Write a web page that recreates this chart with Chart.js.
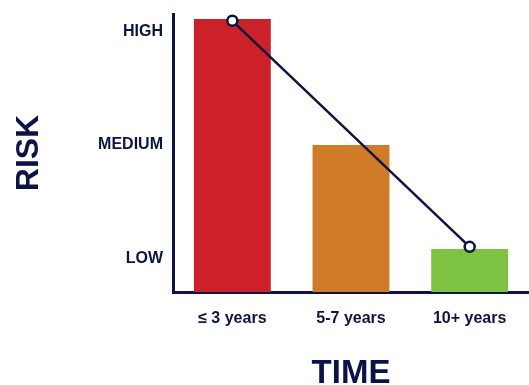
<!DOCTYPE html>
<html>
<head>
<meta charset="utf-8">
<script src="https://cdn.jsdelivr.net/npm/chart.js@4/dist/chart.umd.min.js"></script>
<style>
  html, body { margin: 0; padding: 0; background: #fff; overflow: hidden; }
  canvas { display: block; }
</style>
</head>
<body>
<canvas id="riskChart" width="529" height="385"></canvas>
<script>
// categories and values
var periods = ['\u2264 3 years', '5-7 years', '10+ years'];
var riskBars = [3.115, 2.0, 1.08];
var riskTrend = [3.1, null, 1.1];
var riskLevels = [1, 2, 3];
var riskLabels = ['LOW', 'MEDIUM', 'HIGH'];
var barColors = ['#cc2128', '#d07b28', '#7dc243'];

var navy = '#0c1445';
var font = "'Liberation Sans', Arial, sans-serif";

var ctx = document.getElementById('riskChart').getContext('2d');

var chart = new Chart(ctx, {
	type: 'bar',
	data: {
		labels: periods,
		datasets: [{
			type: 'line',
			data: riskTrend,
			spanGaps: true,
			borderColor: navy,
			borderWidth: 2.5,
			pointRadius: 5,
			pointBorderWidth: 2.5,
			pointBackgroundColor: '#fff',
			pointBorderColor: navy,
			clip: false,
			order: 0
		}, {
			data: riskBars,
			backgroundColor: barColors,
			barPercentage: 1,
			categoryPercentage: 0.648,
			order: 1
		}]
	},
	options: {
		responsive: false,
		animation: false,
		// no auto padding, the plot runs to the right edge
		layout: { autoPadding: false, padding: { top: 14, right: -5 } },
		plugins: {
			legend: { display: false },
			tooltip: { enabled: false }
		},
		scales: {
			x: {
				grid: { display: false },
				border: { color: navy, width: 3 },
				ticks: {
					color: navy,
					padding: 9,
					font: { family: font, size: 16, weight: 'bold' }
				},
				title: {
					display: true,
					text: 'TIME',
					color: navy,
					padding: 0,
					font: { family: font, size: 33, weight: 'bold', lineHeight: 0.7 }
				},
				afterFit: function(scale) {
					scale.height = 93;
					scale.paddingLeft = 0;
					scale.paddingRight = 0;
				}
			},
			y: {
				min: 0.7,
				max: 3.16,
				grid: { display: false },
				border: { color: navy, width: 3 },
				afterBuildTicks: function(scale) {
					scale.ticks = riskLevels.map(function(v) { return { value: v }; });
				},
				ticks: {
					color: navy,
					padding: 2,
					font: { family: font, size: 16, weight: 'bold' },
					callback: function(value) {
						var i = riskLevels.indexOf(value);
						return i >= 0 ? riskLabels[i] : '';
					}
				},
				title: {
					display: true,
					text: 'RISK',
					color: navy,
					padding: { top: 10 },
					font: { family: font, size: 32, weight: 'bold', lineHeight: 1.2 }
				},
				afterFit: function(scale) {
					scale.width = 173;
					scale.paddingTop = 0;
					scale.paddingBottom = 0;
				}
			}
		}
	}
});
</script>
</body>
</html>
